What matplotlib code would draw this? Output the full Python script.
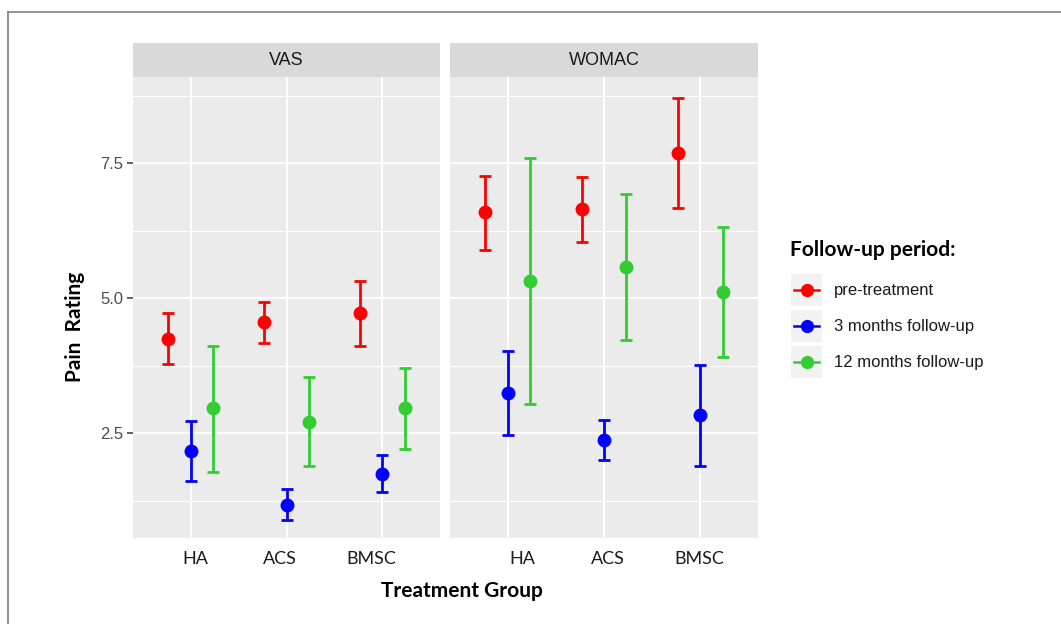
import numpy as np
import matplotlib
matplotlib.use("Agg")
import matplotlib.pyplot as plt
from matplotlib.lines import Line2D
from matplotlib.patches import Rectangle

# Data
groups = ["HA", "ACS", "BMSC"]
periods = ["pre-treatment", "3 months follow-up", "12 months follow-up"]
colors = ["#ff0000", "#0000ff", "#33cc33"]

# rows: pre-treatment, 3 months, 12 months ; cols: HA, ACS, BMSC
vas_mean = [[4.25, 4.56, 4.72],
            [2.17, 1.18, 1.75],
            [2.96, 2.71, 2.96]]
vas_low = [[3.78, 4.17, 4.12],
           [1.61, 0.90, 1.42],
           [1.79, 1.89, 2.20]]
vas_high = [[4.72, 4.94, 5.32],
            [2.73, 1.46, 2.09],
            [4.12, 3.54, 3.71]]

womac_mean = [[6.59, 6.65, 7.69],
              [3.24, 2.38, 2.83],
              [5.32, 5.58, 5.12]]
womac_low = [[5.90, 6.04, 6.67],
             [2.46, 2.00, 1.90],
             [3.05, 4.22, 3.91]]
womac_high = [[7.26, 7.25, 8.71],
              [4.02, 2.75, 3.77],
              [7.60, 6.94, 6.32]]

W, H = 1061, 624
fig = plt.figure(figsize=(W / 100, H / 100), dpi=100)
fig.patch.set_facecolor("white")

# thin frame (top and left edges visible in the original crop)
fig.add_artist(Line2D([8 / W, 8 / W], [0, 1 - 12 / H], color="#808080", lw=1.2))
fig.add_artist(Line2D([8 / W, 1], [1 - 12 / H, 1 - 12 / H], color="#808080", lw=1.2))

calibri = ["Lato", "DejaVu Sans"]
arial = ["Liberation Sans", "DejaVu Sans"]


def px_box(x0, y0, x1, y1):
    return [x0 / W, 1 - y1 / H, (x1 - x0) / W, (y1 - y0) / H]


facets = [
    ("VAS", vas_mean, vas_low, vas_high, (133, 440), [1.045, 1.93, 2.88]),
    ("WOMAC", womac_mean, womac_low, womac_high, (450, 758), [1.15, 2.04, 2.99]),
]

dodge = 0.7 / 3
x = np.arange(1, len(groups) + 1)

for i, (name, mean, low, high, (xl, xr), lab_x) in enumerate(facets):
    ax = fig.add_axes(px_box(xl, 77, xr, 538))
    ax.set_facecolor("#ebebeb")
    for s in ax.spines.values():
        s.set_visible(False)

    for k in range(len(periods)):
        m = np.array(mean[k])
        lo = m - np.array(low[k])
        hi = np.array(high[k]) - m
        ax.errorbar(x + (k - 1) * dodge, m, yerr=[lo, hi], fmt="o",
                    color=colors[k], ms=9, lw=2.0, capsize=4.5,
                    capthick=2.0, zorder=3)

    ax.set_xlim(0.4, 3.6)
    ax.set_ylim(0.56, 9.10)
    ax.set_yticks([2.5, 5.0, 7.5])
    ax.set_yticks([1.25, 3.75, 6.25, 8.75], minor=True)
    ax.set_xticks(x)
    ax.set_xticklabels([])
    ax.set_xticks(lab_x, groups, minor=True)
    ax.grid(which="major", color="white", lw=1.4)
    ax.grid(which="minor", axis="y", color="white", lw=0.8)
    ax.set_axisbelow(True)
    ax.tick_params(axis="x", which="both", length=0, pad=9)
    for t in ax.get_xticklabels(minor=True):
        t.set_fontfamily(calibri)
        t.set_fontsize(13)
        t.set_color("#1a1a1a")
    ax.tick_params(axis="y", which="minor", length=0)
    if i == 0:
        ax.tick_params(axis="y", which="major", length=4, width=1.1,
                       color="#333333", labelcolor="#4d4d4d",
                       labelsize=12, pad=3)
        for t in ax.get_yticklabels():
            t.set_fontfamily(arial)
    else:
        ax.tick_params(axis="y", which="major", length=0, labelleft=False)

    # facet strip
    sax = fig.add_axes(px_box(xl, 43, xr, 77))
    sax.set_facecolor("#d9d9d9")
    sax.set_xticks([])
    sax.set_yticks([])
    for s in sax.spines.values():
        s.set_visible(False)
    sax.text(0.5, 0.48, name, ha="center", va="center", fontsize=13,
             color="#1a1a1a", family=arial, transform=sax.transAxes)

# axis titles
fig.text(75 / W, 1 - 327 / H, "Pain  Rating", rotation=90, ha="center",
         va="center", fontsize=15, fontweight="bold", family=calibri)
fig.text(462 / W, 1 - 591 / H, "Treatment Group", ha="center",
         va="center", fontsize=15, fontweight="bold", family=calibri)

# legend drawn in its own pixel-space axes
lax = fig.add_axes([0, 0, 1, 1], zorder=5)
lax.set_xlim(0, W)
lax.set_ylim(H, 0)
lax.axis("off")
lax.text(790, 250, "Follow-up period:", ha="left", va="center",
         fontsize=15, fontweight="bold", family=calibri)
key_tops = [274, 310, 346]
for k, lab in enumerate(periods):
    y0 = key_tops[k]
    lax.add_patch(Rectangle((791, y0), 31, 32, facecolor="#f2f2f2",
                            edgecolor="none"))
    yc = y0 + 16
    lax.plot([794, 819], [yc, yc], color=colors[k], lw=1.8)
    lax.plot([806.5], [yc], "o", color=colors[k], ms=8.5)
    lax.text(834, yc, lab, ha="left", va="center", fontsize=12,
             color="#1a1a1a", family=arial)

fig.savefig("out.png", dpi=100)
